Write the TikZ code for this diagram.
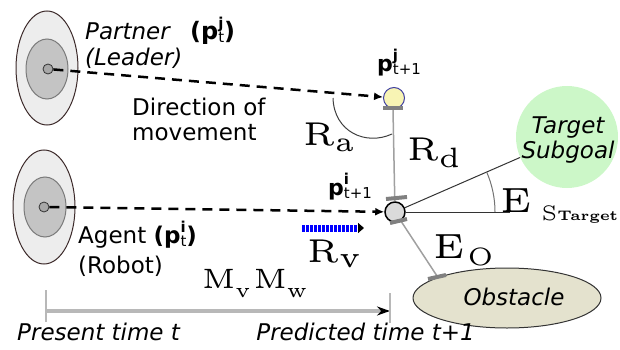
\documentclass[tikz,border=0pt]{standalone}
\usepackage{fontspec}
\newfontfamily\dv{DejaVu Sans}
\newfontfamily\lmv{lmroman5-regular.otf}[BoldFont=lmroman5-bold.otf]
\usetikzlibrary{arrows.meta,shapes.geometric}
\definecolor{outerfill}{HTML}{EDEDED}
\definecolor{outerdraw}{HTML}{3D2B2B}
\definecolor{innerfill}{HTML}{C4C4C4}
\definecolor{innerdraw}{HTML}{7A7A7A}
\definecolor{dotfill}{HTML}{A8A8A8}
\definecolor{yelfill}{HTML}{F8F4B4}
\definecolor{yeldraw}{HTML}{4040A0}
\definecolor{agfill}{HTML}{DADADA}
\definecolor{tgtfill}{HTML}{CCF7C8}
\definecolor{obsfill}{HTML}{E4E2CE}
\definecolor{bargray}{HTML}{808080}
\definecolor{linegray}{HTML}{A0A0A0}
\definecolor{axisgray}{HTML}{B8B8B8}
\newcommand\fs[1]{\fontsize{#1}{#1}\selectfont}
\newcommand\sbx[3]{\raisebox{-#2}{\fs{#1}#3}}
\newcommand\pmk[2]{\textbf{p}\rlap{\raisebox{11pt}{\fs{15}\bfseries #1}}\raisebox{-3pt}{\fs{15}#2}}
\begin{document}
\begin{tikzpicture}[x=1pt,y=-1pt,
  outerell/.style={ellipse,draw=outerdraw,fill=outerfill,line width=1pt,minimum width=62pt,minimum height=114pt,inner sep=0pt},
  innerell/.style={ellipse,draw=innerdraw,fill=innerfill,line width=1pt,minimum width=42pt,minimum height=60pt,inner sep=0pt},
  dotc/.style={circle,draw=black!80,fill=dotfill,line width=0.8pt,minimum size=10pt,inner sep=0pt},
  sans/.style={font=\dv\fs{23},inner sep=0pt},
  sansit/.style={font=\dv\itshape\fs{23},inner sep=0pt},
  serif/.style={font=\lmv,inner sep=0pt},
  dasharrow/.style={line width=2.5pt,dash pattern=on 10pt off 7pt,-{Latex[length=9pt,width=8pt]}},
  bar/.style={draw=bargray,line width=4pt},
  gline/.style={draw=linegray,line width=1.5pt},
  thinline/.style={draw=black!80,line width=1pt},
]
\useasboundingbox (0,0) rectangle (620,350);
% partner
\node[outerell] (pout) at (47,68) {};
\node[innerell] (pin) at (47,69) {};
\node[dotc] (pdot) at (48,69) {};
% agent
\node[outerell] (aout) at (44,207) {};
\node[innerell] (ain) at (45,207) {};
\node[dotc] (adot) at (44,207) {};
% target and obstacle
\node[circle,fill=tgtfill,minimum size=102pt,inner sep=0pt] (tgt) at (567,137) {};
\node[ellipse,draw=black!80,fill=obsfill,line width=1pt,minimum width=188pt,minimum height=60pt,inner sep=0pt] (obs) at (507,298) {};
% future positions
\node[circle,draw=yeldraw,fill=yelfill,line width=1pt,minimum size=21pt,inner sep=0pt] (pj) at (394,98) {};
\node[circle,draw=black,fill=agfill,line width=1.5pt,minimum size=20pt,inner sep=0pt] (pi) at (395,212) {};
% coordinates
\coordinate (rdtop) at (393,110);
\coordinate (hend) at (510,212);
\coordinate (eoend) at (437,276);
\coordinate (t0) at (46,311);
\coordinate (t1) at (390,311);
\coordinate (bv0) at (302,228);
\coordinate (bv1) at (364,228);
% lines
\draw[gline] (rdtop) -- (pi);
\draw[gline] (pi) -- (eoend);
\draw[thinline] (pi) -- (hend);
\draw[thinline] (pi) -- (tgt);
\draw[draw=black!55,line width=1pt] ([xshift=100pt]pi.center) arc[start angle=0,end angle=-23.5,radius=100];
\draw[draw=black!75,line width=1pt] (333,98) .. controls (334,132) and (366,146) .. (392,134);
% bars
\draw[bar] (383,108) -- (403,108);
\draw[bar] (386,199) -- (407,197);
\draw[bar] (390,223) -- (407,219);
\draw[bar] (428,279) -- (446,275);
% dashed arrows
\draw[dasharrow] (pdot) -- (pj);
\draw[dasharrow] (adot) -- (pi);
% blue arrow
\draw[blue,line width=7pt,dash pattern=on 2.5pt off 1.5pt,-{Triangle[length=6pt,width=10pt,black]}] (bv0) -- (bv1);
% time axis
\draw[axisgray,line width=3.5pt,-{Stealth[length=13pt,width=9pt,black]}] (t0) -- (t1);
\draw[axisgray,line width=2pt] (46,290) -- (46,322);
\draw[axisgray,line width=2pt] (390,293) -- (390,323);
% texts
\node[sansit,anchor=base west] (tpartner) at (85,40) {Partner};
\node[sans,anchor=base west,font=\dv\fs{24}] (tpj) at (190,40) {\textbf{(}\pmk{j}{t}\textbf{)}};
\node[sansit,anchor=base west] (tleader) at (85,66) {(Leader)};
\node[sans,anchor=base west] (tdir) at (132,115) {Direction of};
\node[sans,anchor=base west] (tmov) at (132,140) {movement};
\node[sans,anchor=base west] (tagent) at (78,243) {Agent \textbf{(}\pmk{i}{t}\textbf{)}};
\node[sans,anchor=base west] (trobot) at (78,273) {(Robot)};
\node[sans,anchor=base west,font=\dv\fs{22}] (tpj1) at (377,72) {\pmk{j}{t+1}};
\node[sans,anchor=base west,font=\dv\fs{22}] (tpi1) at (328,195) {\pmk{i}{t+1}};
\node[sansit,align=center] (ttgt) at (568,140) {Target\\[2pt]Subgoal};
\node[sansit] (tobs) at (514,297) {Obstacle};
\node[sansit,anchor=base west] (tpres) at (17,340) {Present time t};
\node[sansit,anchor=base east] (tpred) at (475,340) {Predicted time t+1};
\node[serif,anchor=base west] (tra) at (303,145) {\fs{33}R\sbx{28}{6pt}{a}};
\node[serif,anchor=base west] (trd) at (407,160) {\fs{33}R\sbx{28}{7pt}{d}};
\node[serif,anchor=base west] (trv) at (307,262) {\fs{33}R\sbx{30}{5pt}{v}};
\node[serif,anchor=base west] (teo) at (433,258) {\fs{35}E\hspace{3pt}\sbx{25}{7pt}{O}};
\node[serif,anchor=base west] (tes) at (500,212) {\fs{35}E\hspace{10pt}\sbx{21}{8pt}{S\fs{14}\bfseries Target}};
\node[serif,anchor=base west] (tmm) at (202,288) {\fs{28}M\sbx{21}{9pt}{v}\hspace{3pt}M\sbx{21}{9pt}{w}};
\end{tikzpicture}
\end{document}
